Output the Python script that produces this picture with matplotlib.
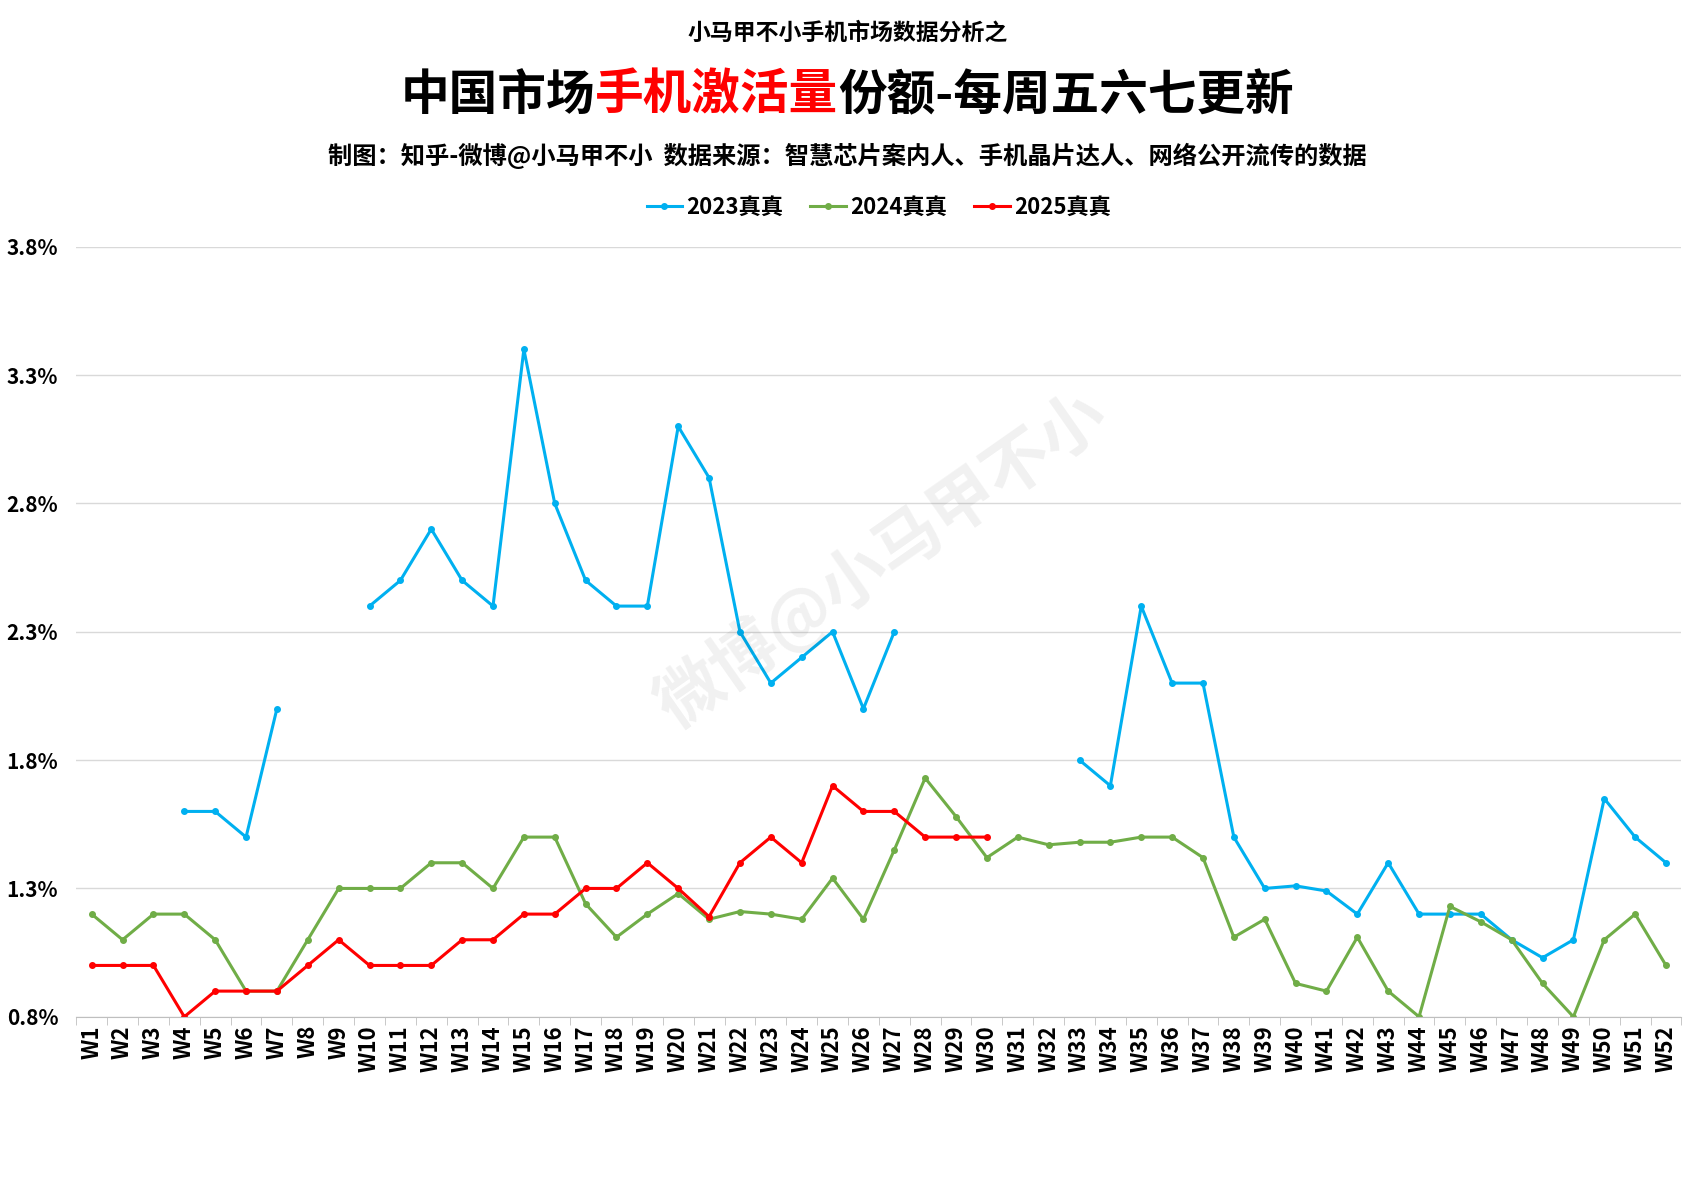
import matplotlib.pyplot as plt
import numpy as np

plt.rcParams['font.family'] = 'Noto Sans CJK SC'
plt.rcParams['font.weight'] = 'bold'

weeks = ['W%d' % i for i in range(1, 53)]
N = None
s2023 = [N, N, N, 1.6, 1.6, 1.5, 2.0, N, N, 2.4, 2.5, 2.7, 2.5, 2.4, 3.4, 2.8, 2.5, 2.4, 2.4, 3.1,
         2.9, 2.3, 2.1, 2.2, 2.3, 2.0, 2.3, N, N, N, N, N, 1.8, 1.7, 2.4, 2.1, 2.1, 1.5, 1.3, 1.31,
         1.29, 1.2, 1.4, 1.2, 1.2, 1.2, 1.1, 1.03, 1.1, 1.65, 1.5, 1.4]
s2024 = [1.2, 1.1, 1.2, 1.2, 1.1, 0.9, 0.9, 1.1, 1.3, 1.3, 1.3, 1.4, 1.4, 1.3, 1.5, 1.5, 1.24, 1.11, 1.2, 1.28,
         1.18, 1.21, 1.2, 1.18, 1.34, 1.18, 1.45, 1.73, 1.58, 1.42, 1.5, 1.47, 1.48, 1.48, 1.5, 1.5, 1.42, 1.11, 1.18, 0.93,
         0.9, 1.11, 0.9, 0.8, 1.23, 1.17, 1.1, 0.93, 0.8, 1.1, 1.2, 1.0]
s2025 = [1.0, 1.0, 1.0, 0.8, 0.9, 0.9, 0.9, 1.0, 1.1, 1.0, 1.0, 1.0, 1.1, 1.1, 1.2, 1.2, 1.3, 1.3, 1.4, 1.3,
         1.19, 1.4, 1.5, 1.4, 1.7, 1.6, 1.6, 1.5, 1.5, 1.5]
yticks = [0.8, 1.3, 1.8, 2.3, 2.8, 3.3, 3.8]

def arr(v):
    return np.array([np.nan if a is None else a for a in v], dtype=float)

fig = plt.figure(figsize=(16.95, 11.92), dpi=100)
ax = fig.add_axes([0.045, 0.147, 0.947, 0.646])
x = np.arange(len(weeks))
ax.plot(x, arr(s2023), color='#00b0f0', lw=2.2, marker='o', ms=4, label='2023真真')
ax.plot(x[:len(s2024)], arr(s2024), color='#70ad47', lw=2.2, marker='o', ms=4, label='2024真真')
ax.plot(x[:len(s2025)], arr(s2025), color='#ff0000', lw=2.2, marker='o', ms=4, label='2025真真')

ax.set_xlim(-0.5, len(weeks) - 0.5)
ax.set_ylim(0.8, 3.8)
ax.set_yticks(yticks)
ax.set_yticklabels(['%.1f%%' % v for v in yticks], fontsize=15)
ax.set_xticks(x)
ax.set_xticklabels(weeks, rotation=90, fontsize=16)
ax.set_xticks(np.arange(-0.5, len(weeks)), minor=True)
ax.tick_params(axis='x', which='major', length=0, pad=6)
ax.tick_params(axis='x', which='minor', length=6, color='#bfbfbf')
ax.tick_params(axis='y', length=0, pad=13)
ax.grid(axis='y', color='#d9d9d9', lw=1)
for s in ['top', 'right', 'left']:
    ax.spines[s].set_visible(False)
ax.spines['bottom'].set_color('#bfbfbf')

ax.legend(loc='lower center', bbox_to_anchor=(0.5, 1.01), ncol=3, frameon=False,
          fontsize=16, handlelength=1.6, handletextpad=0.2, columnspacing=1.2)

fig.text(0.5, 0.972, '小马甲不小手机市场数据分析之', ha='center', va='center', fontsize=16.5)
fig.text(0.5, 0.869, '制图：知乎-微博@小马甲不小  数据来源：智慧芯片案内人、手机晶片达人、网络公开流传的数据',
         ha='center', va='center', fontsize=17.5)

# title with a red middle part
parts = [('中国市场', 'black'), ('手机激活量', '#ff0000'), ('份额-每周五六七更新', 'black')]
fig.canvas.draw()
r = fig.canvas.get_renderer()
texts = [fig.text(0, 0.92, p, fontsize=35, color=c, va='center') for p, c in parts]
widths = [t.get_window_extent(r).width for t in texts]
W = fig.bbox.width
xpos = (W - sum(widths)) / 2
for t, w in zip(texts, widths):
    t.set_x(xpos / W)
    xpos += w

fig.text(0.52, 0.53, '微博@小马甲不小', fontsize=48, color='#000000', alpha=0.06,
         rotation=35, ha='center', va='center')
fig.savefig('out.png', dpi=100, facecolor='white')
